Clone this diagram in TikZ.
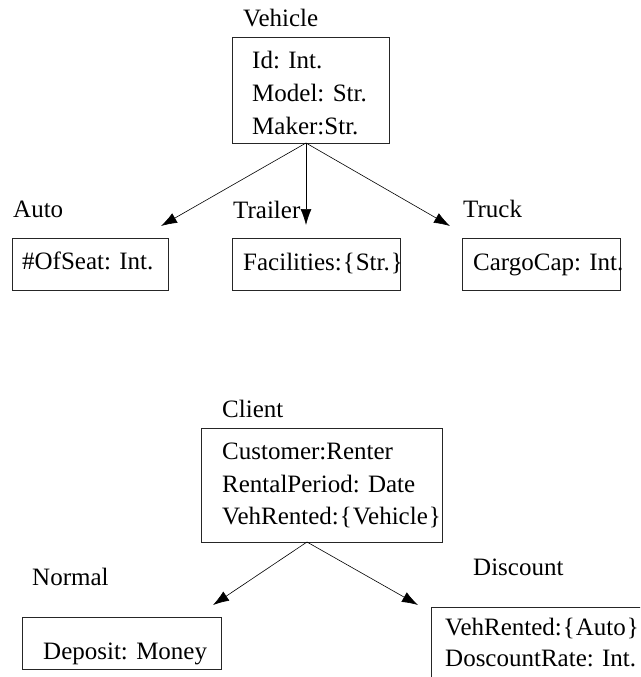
\documentclass[tikz,border=0pt]{standalone}
\usepackage{fontspec}
\setmainfont{Liberation Serif}
\usetikzlibrary{arrows.meta}
\tikzset{
  umlbox/.style={draw=black!85, line width=0.8pt, rectangle, inner sep=0pt},
  txt/.style={anchor=base west, inner sep=0pt, font=\fontsize{25}{30}\selectfont},
  inh/.style={line width=0.6pt, -{Latex[length=16pt,width=11pt]}}
}
\newcommand{\lbr}{\hspace{1pt}\{\hspace{1pt}}
\newcommand{\rbr}{\hspace{1pt}\}}
\begin{document}
\begin{tikzpicture}[x=1pt,y=-1pt]
\useasboundingbox (0,0) rectangle (640,677);
% Vehicle
\node[txt] (vlab) at (243,27) {Vehicle};
\node[umlbox, minimum width=157pt, minimum height=106pt] (vbox) at (310.5,90) {};
\node[txt] (v1) at (252,68) {Id: Int.};
\node[txt] (v2) at (252,101) {Model: Str.};
\node[txt] (v3) at (252,134) {Maker:Str.};
\coordinate (vapex) at (306,143);
% children
\node[txt] (alab) at (13,217) {Auto};
\node[txt] (tlab) at (233,218) {Trailer};
\node[txt] (klab) at (463,217) {Truck};
\node[umlbox, minimum width=156pt, minimum height=52pt] (abox) at (90,264) {};
\node[umlbox, minimum width=168pt, minimum height=52pt] (tbox) at (316,264) {};
\node[umlbox, minimum width=158pt, minimum height=52pt] (kbox) at (541,264) {};
\node[txt] (a1) at (22,269) {\#OfSeat: Int.};
\node[txt] (t1) at (243,270) {Facilities:\lbr Str.\rbr};
\node[txt] (k1) at (473,270) {CargoCap: Int.};
\coordinate (atip) at (161,226);
\coordinate (ttip) at (306,225);
\coordinate (ktip) at (450,226);
\draw[inh] (vapex) -- (atip);
\draw[inh] (vapex) -- (ttip);
\draw[inh] (vapex) -- (ktip);
% Client
\node[txt] (clab) at (222,417) {Client};
\node[umlbox, minimum width=241pt, minimum height=114pt] (cbox) at (321.5,485) {};
\node[txt] (c1) at (222,459) {Customer:Renter};
\node[txt] (c2) at (222,492) {RentalPeriod: Date};
\node[txt] (c3) at (222,524) {VehRented:\lbr Vehicle\rbr};
\coordinate (capex) at (307,542);
% Normal
\node[txt] (nlab) at (32,585) {Normal};
\node[umlbox, minimum width=199pt, minimum height=52pt] (nbox) at (121.5,643) {};
\node[txt] (n1) at (43,659) {Deposit: Money};
% Discount
\node[txt] (dlab) at (473,575) {Discount};
\begin{scope}
\clip (0,0) rectangle (640,677);
\node[umlbox, anchor=north west, minimum width=240pt, minimum height=90pt] (dbox) at (431,607) {};
\node[txt] (d1) at (445,635) {VehRented:\lbr Auto\rbr};
\node[txt] (d2) at (445,666) {DoscountRate: Int.};
\end{scope}
\coordinate (ntip) at (213,605);
\coordinate (dtip) at (418,605);
\draw[inh] (capex) -- (ntip);
\draw[inh] (capex) -- (dtip);
\end{tikzpicture}
\end{document}
